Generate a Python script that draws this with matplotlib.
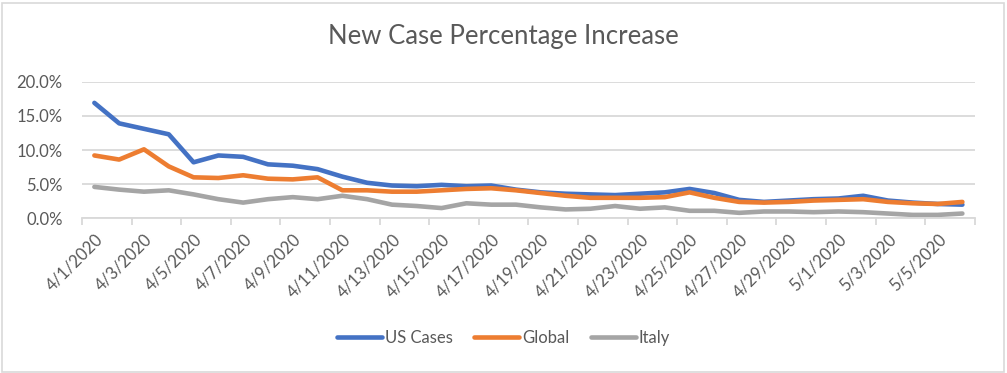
import matplotlib
matplotlib.use("Agg")
import matplotlib.pyplot as plt
from matplotlib.patches import Rectangle
from matplotlib.ticker import PercentFormatter

plt.rcParams["font.family"] = ["Lato", "DejaVu Sans"]

dates = [f"4/{d}/2020" for d in range(1, 31)] + [f"5/{d}/2020" for d in range(1, 7)]

us_cases = [16.9, 13.9, 13.1, 12.3, 8.2, 9.2, 9.0, 7.9, 7.7, 7.2, 6.1, 5.2,
            4.8, 4.7, 4.9, 4.7, 4.8, 4.2, 3.8, 3.6, 3.5, 3.4, 3.6, 3.8,
            4.3, 3.7, 2.7, 2.4, 2.6, 2.8, 2.9, 3.3, 2.6, 2.3, 2.1, 2.0]
global_cases = [9.2, 8.6, 10.1, 7.6, 6.0, 5.9, 6.3, 5.8, 5.7, 6.0, 4.1, 4.1,
                3.9, 3.9, 4.1, 4.3, 4.4, 4.1, 3.7, 3.3, 3.0, 3.0, 3.0, 3.1,
                3.8, 3.0, 2.4, 2.3, 2.4, 2.6, 2.7, 2.8, 2.4, 2.2, 2.1, 2.4]
italy = [4.6, 4.2, 3.9, 4.1, 3.5, 2.8, 2.3, 2.8, 3.1, 2.8, 3.3, 2.8,
         2.0, 1.8, 1.5, 2.2, 2.0, 2.0, 1.6, 1.3, 1.4, 1.8, 1.4, 1.6,
         1.1, 1.1, 0.8, 1.0, 1.0, 0.9, 1.0, 0.9, 0.7, 0.5, 0.5, 0.7]

text_color = "#595959"
grid_color = "#d9d9d9"

fig = plt.figure(figsize=(10.07, 3.73), dpi=100)
ax = fig.add_axes([0.0814, 0.4147, 0.8866, 0.3663])

x = list(range(len(dates)))
ax.plot(x, us_cases, color="#4472C4", lw=3.3, label="US Cases", solid_capstyle="round")
ax.plot(x, global_cases, color="#ED7D31", lw=3.3, label="Global", solid_capstyle="round")
ax.plot(x, italy, color="#A5A5A5", lw=3.3, label="Italy", solid_capstyle="round")

ax.set_ylim(0, 20)
ax.set_xlim(-0.5, len(dates) - 0.5)
ax.set_yticks([0, 5, 10, 15, 20])
ax.yaxis.set_major_formatter(PercentFormatter(decimals=1))
ax.grid(axis="y", color=grid_color, lw=1.3)
ax.set_axisbelow(True)

# tick marks sit between categories, labels on every other category
ax.set_xticks([i - 0.5 for i in range(0, len(dates) + 1, 2)])
ax.set_xticklabels([])
ax.set_xticks(x[::2], minor=True)
ax.set_xticklabels(dates[::2], minor=True, rotation=45, ha="right",
                   rotation_mode="anchor", color=text_color, fontsize=12)
ax.tick_params(axis="x", which="major", length=5, color=grid_color, width=1.3)
ax.tick_params(axis="x", which="minor", length=0, pad=9)
ax.tick_params(axis="y", length=0, labelcolor=text_color, labelsize=12, pad=14)

for side in ["top", "right", "left"]:
    ax.spines[side].set_visible(False)
ax.spines["bottom"].set_color(grid_color)
ax.spines["bottom"].set_linewidth(1.3)

fig.suptitle("New Case Percentage Increase", y=0.935, color=text_color, fontsize=18.5)

leg = fig.legend(loc="center", bbox_to_anchor=(0.5, 0.094), ncol=3, frameon=False,
                 fontsize=12, handlelength=2.7, columnspacing=1.3, handletextpad=0.15)
for t in leg.get_texts():
    t.set_color(text_color)

fig.patches.append(Rectangle((0.002, 0.004), 0.995, 0.988, transform=fig.transFigure,
                             fill=False, edgecolor=grid_color, lw=1.2))

fig.savefig("out.png", dpi=100)
